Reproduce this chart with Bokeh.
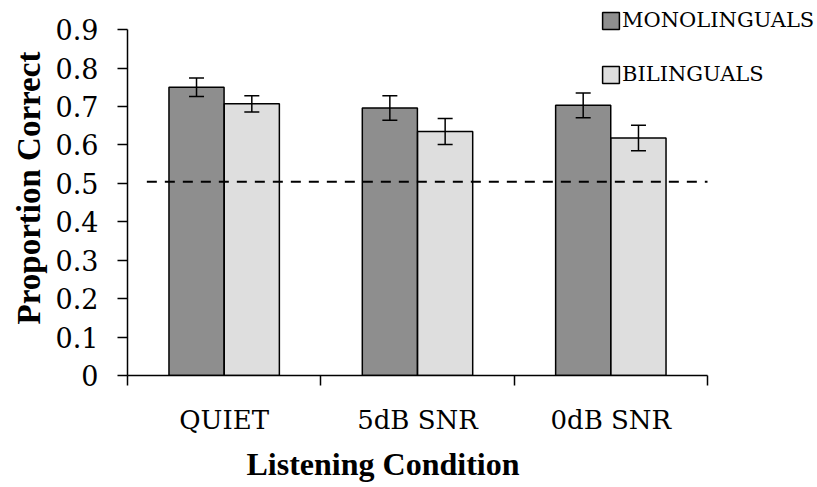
from bokeh.plotting import figure
from bokeh.models import (ColumnDataSource, Range1d, FixedTicker, Whisker, TeeHead,
                          Legend, LegendItem, Title)
from bokeh.embed import file_html
from bokeh.resources import INLINE

# ---- data ----
conditions = ["QUIET", "5dB SNR", "0dB SNR"]
groups = ["MONOLINGUALS", "BILINGUALS"]
mono = [0.750, 0.696, 0.703]
mono_err = [0.024, 0.032, 0.032]
bili = [0.707, 0.635, 0.618]
bili_err = [0.021, 0.034, 0.033]
chance = 0.504
y_ticks = [0, 0.1, 0.2, 0.3, 0.4, 0.5, 0.6, 0.7, 0.8, 0.9]
y_tick_labels = ["0", "0.1", "0.2", "0.3", "0.4", "0.5", "0.6", "0.7", "0.8", "0.9"]
x_title = "Listening Condition"
y_title = "Proportion Correct"

# ---- style / layout ----
MONO_COLOR = "#8e8e8e"
BILI_COLOR = "#dedede"
OFF = 0.143
BW = 0.285
W, H = 817, 487
FRAME_LEFT = 127          # px, y axis position
AXIS_RIGHT = 707          # px, right end of x axis
AXIS_TOP = 29.3           # px, top of y axis (0.9)
FRAME_BOTTOM = 376.7      # px, x axis position
Y_MAX = 0.9

n = len(conditions)
centers = [i + 0.5 for i in range(n)]
edges = list(range(n + 1))
x_end = n * (W - FRAME_LEFT) / (AXIS_RIGHT - FRAME_LEFT)
y_end = Y_MAX * FRAME_BOTTOM / (FRAME_BOTTOM - AXIS_TOP)

src = ColumnDataSource(dict(
    xm=[c - OFF for c in centers],
    xb=[c + OFF for c in centers],
    mono=mono,
    mono_lo=[v - e for v, e in zip(mono, mono_err)],
    mono_hi=[v + e for v, e in zip(mono, mono_err)],
    bili=bili,
    bili_lo=[v - e for v, e in zip(bili, bili_err)],
    bili_hi=[v + e for v, e in zip(bili, bili_err)],
))

p = figure(x_range=Range1d(0, x_end), y_range=Range1d(0, y_end),
           width=W, height=H, output_backend="svg", toolbar_location=None,
           min_border_left=FRAME_LEFT, min_border_right=0, min_border_top=0,
           min_border_bottom=round(H - FRAME_BOTTOM))
p.outline_line_color = None
p.background_fill_color = "white"
p.xgrid.visible = False
p.ygrid.visible = False

mono_r = p.vbar(x="xm", top="mono", width=BW, source=src,
                fill_color=MONO_COLOR, line_color="black", line_width=1.5)
bili_r = p.vbar(x="xb", top="bili", width=BW, source=src,
                fill_color=BILI_COLOR, line_color="black", line_width=1.5)

for base, lo, hi in [("xm", "mono_lo", "mono_hi"), ("xb", "bili_lo", "bili_hi")]:
    p.add_layout(Whisker(source=src, base=base, level="overlay",
                         upper=hi, lower=lo, line_width=1.5, line_color="black",
                         upper_head=TeeHead(size=15, line_width=1.5, line_color="black"),
                         lower_head=TeeHead(size=15, line_width=1.5, line_color="black")))

p.segment(x0=0.1, x1=n, y0=chance, y1=chance,
          line_dash="10 8", line_width=2, line_color="black")

# y axis
ya = p.yaxis[0]
ya.bounds = (0, Y_MAX)
ya.ticker = FixedTicker(ticks=y_ticks)
ya.major_label_overrides = dict(zip(y_ticks, y_tick_labels))
ya.major_tick_in = 0
ya.major_tick_out = 10
ya.minor_tick_line_color = None
ya.axis_line_width = 1.5
ya.major_tick_line_width = 1.5
ya.axis_line_color = "black"
ya.major_tick_line_color = "black"
ya.major_label_text_font = "DejaVu Serif"
ya.major_label_text_font_size = "27px"
ya.major_label_text_color = "black"
ya.major_label_standoff = 19

# x axis: minor ticks at category edges, labels at category centers
xa = p.xaxis[0]
xa.bounds = (0, n)
xa.ticker = FixedTicker(ticks=centers, minor_ticks=edges)
xa.major_label_overrides = dict(zip(centers, conditions))
xa.major_tick_line_color = None
xa.major_tick_in = 0
xa.major_tick_out = 10
xa.minor_tick_in = 0
xa.minor_tick_out = 10
xa.minor_tick_line_color = "black"
xa.minor_tick_line_width = 1.5
xa.axis_line_width = 1.5
xa.axis_line_color = "black"
xa.major_label_text_font = "DejaVu Serif"
xa.major_label_text_font_size = "26px"
xa.major_label_text_color = "black"
xa.major_label_standoff = 19

legend = Legend(items=[LegendItem(label=groups[0], renderers=[mono_r]),
                       LegendItem(label=groups[1], renderers=[bili_r])],
                location=(473, 288.7), orientation="vertical",
                glyph_width=21, glyph_height=21, label_height=21, label_standoff=1,
                spacing=30, padding=0, margin=0, border_line_color=None,
                background_fill_alpha=0, label_text_font="DejaVu Serif",
                label_text_font_size="21px", label_text_color="black")
p.add_layout(legend)

p.add_layout(Title(text=y_title, align="center", standoff=11,
                   text_font="Liberation Serif", text_font_style="bold",
                   text_font_size="33px", text_color="black"), "left")
p.add_layout(Title(text=x_title, align="left", offset=119, standoff=12,
                   text_font="Liberation Serif", text_font_style="bold",
                   text_font_size="32px", text_color="black"), "below")

open("out.html", "w").write(file_html(p, INLINE))
